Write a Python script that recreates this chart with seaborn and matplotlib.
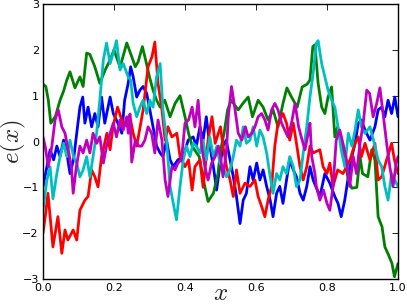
import matplotlib
matplotlib.use("Agg")
import matplotlib.pyplot as plt
import seaborn as sns
import numpy as np

# values, (x, e(x)) for each of the five curves
blue = [(0, -0.99), (0.011, -0.55), (0.02, -0.18), (0.03, -0.4), (0.039, -0.1), (0.048, -0.33),
        (0.058, 0.03), (0.067, -0.25), (0.076, -0.7), (0.086, -0.4), (0.095, 0.18), (0.104, 0.75),
        (0.112, 0.97), (0.118, 0.4), (0.127, 0.75), (0.137, 0.32), (0.146, 0.61), (0.155, 0.32),
        (0.165, 0.97), (0.174, 0.4), (0.189, 0.97), (0.198, 0.61), (0.211, 0.4), (0.222, 0.18),
        (0.23, 0.9), (0.24, 1.27), (0.247, 1.63), (0.254, 1.41), (0.264, 0.97), (0.273, 1.12),
        (0.282, 1.2), (0.292, 1.05), (0.301, 0.69), (0.31, 0.32), (0.32, -0.1), (0.33, -0.25),
        (0.338, -0.33), (0.348, 0.03), (0.358, -0.4), (0.367, -0.55), (0.38, -0.4), (0.395, -0.33),
        (0.409, 0.03), (0.423, 0.1), (0.432, -0.1), (0.442, 0.32), (0.451, 0.03), (0.46, 0.54),
        (0.47, -0.1), (0.48, -0.55), (0.489, -1.06), (0.498, -0.55), (0.507, -0.1), (0.516, 0.03),
        (0.527, -0.4), (0.536, -0.77), (0.545, -1.2), (0.555, -1.79), (0.564, -1.28), (0.573, -1.13),
        (0.583, -0.55), (0.592, -0.84), (0.602, -0.47), (0.611, -0.84), (0.62, -0.62), (0.63, -0.98),
        (0.64, -1.28), (0.648, -1.64), (0.658, -1.13), (0.667, -0.98), (0.676, -1.35), (0.686, -0.84),
        (0.695, -0.4), (0.705, -0.62), (0.714, -0.77), (0.724, -1.13), (0.733, -1.28), (0.743, -0.98),
        (0.752, -0.55), (0.761, -0.84), (0.78, -1.2), (0.794, -0.7), (0.808, -0.91), (0.822, -1.2),
        (0.831, -1.35), (0.84, -1.64), (0.85, -1.28), (0.86, -0.77), (0.87, -0.33), (0.879, -0.04),
        (0.888, 0.4), (0.897, 0.47), (0.907, 0.25), (0.921, 0.03), (0.935, 0.32), (0.944, 0.69),
        (0.954, 0.75), (0.963, 0.54), (0.972, 0.9), (0.982, 0.61), (0.991, 0.97), (1.0, 0.54)]

green = [(0, 1.25), (0.008, 1.2), (0.015, 0.9), (0.022, 0.4), (0.035, 0.55), (0.048, 0.9),
         (0.058, 1.1), (0.067, 1.34), (0.076, 1.52), (0.09, 1.17), (0.104, 1.41), (0.113, 1.2),
         (0.123, 1.93), (0.132, 1.9), (0.146, 1.63), (0.16, 1.27), (0.175, 1.56), (0.189, 1.78),
         (0.2, 2.0), (0.217, 1.62), (0.236, 2.15), (0.25, 1.85), (0.26, 1.63), (0.268, 1.74),
         (0.28, 2.07), (0.29, 1.75), (0.3, 1.41), (0.31, 1.12), (0.32, 0.9), (0.33, 0.75),
         (0.343, 0.9), (0.358, 0.54), (0.372, 0.83), (0.386, 1.0), (0.4, 0.54), (0.41, 0.18),
         (0.42, -0.1), (0.44, -0.33), (0.456, -0.99), (0.465, -1.31), (0.48, -1.13), (0.493, -0.7),
         (0.5, -0.2), (0.51, 0.18), (0.52, 0.69), (0.53, 0.9), (0.55, 0.69), (0.563, 0.83),
         (0.578, 0.97), (0.59, 0.54), (0.606, 0.9), (0.62, 0.75), (0.634, 0.47), (0.648, 0.69),
         (0.662, 0.32), (0.676, 0.83), (0.687, 1.17), (0.7, 0.97), (0.716, 0.75), (0.73, 1.19),
         (0.744, 1.25), (0.752, 1.34), (0.76, 2.07), (0.766, 2.11), (0.775, 1.27), (0.785, 0.75),
         (0.794, 0.61), (0.803, 0.97), (0.813, 1.19), (0.822, 0.1), (0.83, 0.32), (0.84, -0.04),
         (0.85, -0.4), (0.86, -0.84), (0.87, -1.02), (0.884, -1.0), (0.893, -0.33), (0.9, -0.7),
         (0.915, -0.77), (0.926, -0.18), (0.935, -0.4), (0.944, -1.64), (0.955, -1.86), (0.963, -2.3),
         (0.972, -2.45), (0.983, -2.66), (0.99, -2.95), (1.0, -2.66)]

red = [(0, -2.0), (0.007, -1.6), (0.014, -1.13), (0.028, -2.3), (0.042, -1.64), (0.053, -2.44),
       (0.062, -1.93), (0.07, -2.15), (0.085, -1.93), (0.095, -2.15), (0.104, -1.5), (0.118, -1.28),
       (0.127, -1.2), (0.137, -0.62), (0.146, -0.77), (0.155, -0.99), (0.165, -0.33), (0.18, 0.18),
       (0.189, -0.18), (0.197, 0.32), (0.21, 0.75), (0.225, 0.4), (0.24, 0.32), (0.245, 0.54),
       (0.254, 0.18), (0.264, -0.1), (0.282, 0.69), (0.296, 1.63), (0.307, 1.85), (0.315, 2.17),
       (0.324, 1.27), (0.335, 0.69), (0.344, 0.03), (0.352, 0.32), (0.363, 0.1), (0.377, 0.18),
       (0.386, -0.33), (0.4, -0.55), (0.41, -0.4), (0.42, -1.06), (0.428, -0.55), (0.442, -0.4),
       (0.451, -1.0), (0.465, 0.03), (0.476, 0.54), (0.485, -0.04), (0.494, 0.18), (0.5, 0.32),
       (0.507, -0.1), (0.517, -0.55), (0.527, -0.84), (0.536, -1.2), (0.545, -0.62), (0.555, -1.13),
       (0.569, -0.91), (0.583, -0.98), (0.597, -0.84), (0.606, -1.2), (0.616, -1.42), (0.625, -1.64),
       (0.634, -1.28), (0.644, -0.98), (0.653, -0.1), (0.662, 0.4), (0.676, 0.61), (0.686, 0.4),
       (0.695, 0.03), (0.705, 0.4), (0.714, -0.04), (0.724, -0.55), (0.733, -0.84), (0.743, -0.55),
       (0.752, -0.1), (0.761, -0.25), (0.78, -0.18), (0.789, -0.55), (0.8, -0.7), (0.808, -0.47),
       (0.817, -0.98), (0.83, -0.62), (0.845, -0.7), (0.855, -0.55), (0.865, -0.4), (0.879, -0.04),
       (0.888, 0.1), (0.897, -0.33), (0.907, -0.04), (0.921, -0.4), (0.935, -0.04), (0.944, -0.84),
       (0.954, -0.77), (0.968, -0.4), (0.982, -0.04), (0.99, -0.4), (1.0, -0.7)]

cyan = [(0, -1.5), (0.011, -0.84), (0.02, -0.55), (0.028, -1.25), (0.039, -0.7), (0.048, -0.33),
        (0.058, -0.04), (0.067, -0.33), (0.076, 0.03), (0.086, -0.33), (0.095, -0.47), (0.104, -0.77),
        (0.113, -0.62), (0.123, -0.33), (0.132, -0.77), (0.141, -0.33), (0.151, 0.18), (0.16, 0.9),
        (0.17, 1.78), (0.179, 2.15), (0.189, 1.7), (0.198, 1.93), (0.207, 2.2), (0.217, 1.56),
        (0.226, 1.7), (0.24, 1.41), (0.247, 1.34), (0.254, 0.83), (0.264, 0.54), (0.273, 0.75),
        (0.282, 0.9), (0.292, 0.61), (0.301, 0.9), (0.31, 0.75), (0.32, 1.41), (0.33, 1.7),
        (0.338, 0.69), (0.348, 0.03), (0.358, -0.98), (0.367, -1.35), (0.376, -1.71), (0.386, -0.98),
        (0.395, -0.4), (0.404, -0.1), (0.414, -0.33), (0.423, -0.04), (0.432, -0.1), (0.442, -0.25),
        (0.451, 0.03), (0.46, -0.4), (0.47, 0.1), (0.48, -0.33), (0.49, -0.1), (0.498, -0.47),
        (0.507, -0.55), (0.517, -0.77), (0.527, -0.62), (0.536, -0.33), (0.545, 0.03), (0.555, -0.1),
        (0.564, 0.32), (0.573, -0.04), (0.583, 0.03), (0.592, 0.32), (0.602, -0.1), (0.611, 0.25),
        (0.62, 0.1), (0.63, -0.25), (0.64, -0.77), (0.648, -1.13), (0.658, -0.7), (0.667, -0.84),
        (0.676, -0.55), (0.686, -0.7), (0.695, -0.33), (0.705, -0.55), (0.714, -0.98), (0.724, -0.84),
        (0.733, -0.25), (0.743, 0.32), (0.752, 0.97), (0.761, 1.49), (0.77, 2.15), (0.775, 2.2),
        (0.785, 1.7), (0.794, 1.41), (0.803, 1.12), (0.813, 0.9), (0.822, 0.75), (0.831, 0.32),
        (0.84, -0.18), (0.85, -0.55), (0.86, 0.18), (0.87, -0.1), (0.879, 0.25), (0.888, 0.69),
        (0.897, 0.32), (0.907, 0.18), (0.921, 0.32), (0.935, -0.1), (0.944, -0.4), (0.954, -0.55),
        (0.963, -0.98), (0.972, -1.28), (0.982, -0.7), (0.991, -0.84), (1.0, -0.98)]

magenta = [(0, 0.1), (0.006, -0.1), (0.015, -0.55), (0.025, -0.1), (0.034, 0.47), (0.043, 0.69),
           (0.053, 0.32), (0.062, 0.18), (0.071, -0.18), (0.08, -0.55), (0.085, -1.13), (0.094, -0.55),
           (0.104, -0.1), (0.113, -0.25), (0.123, 0.03), (0.132, -0.25), (0.141, 0.18), (0.151, -0.04),
           (0.16, 0.1), (0.17, -0.47), (0.179, -0.1), (0.189, 0.18), (0.198, 0.4), (0.207, 0.1),
           (0.217, 0.47), (0.226, 0.25), (0.236, 0.54), (0.24, 0.18), (0.245, 0.6), (0.25, -0.45),
           (0.26, 0.03), (0.27, -0.1), (0.278, -0.1), (0.287, 0.03), (0.296, 0.32), (0.306, 0.18),
           (0.315, -0.25), (0.324, 0.47), (0.335, 0.03), (0.344, -0.84), (0.352, -1.2), (0.363, -0.55),
           (0.372, -0.62), (0.38, -0.47), (0.39, -0.4), (0.4, 0.4), (0.41, 0.47), (0.42, 0.75),
           (0.428, 0.32), (0.437, 0.9), (0.447, -0.1), (0.456, -0.55), (0.465, -0.84), (0.475, -0.47),
           (0.485, -0.33), (0.494, -0.1), (0.5, -0.33), (0.507, -0.77), (0.517, -0.18), (0.522, 0.54),
           (0.531, 1.2), (0.54, 0.75), (0.55, 0.18), (0.56, 0.03), (0.57, 0.32), (0.578, 0.1),
           (0.588, 0.18), (0.597, 0.32), (0.606, 0.54), (0.616, 0.61), (0.625, 0.47), (0.634, 0.25),
           (0.644, 0.69), (0.653, 0.83), (0.662, 0.69), (0.672, 0.4), (0.681, 0.25), (0.69, 0.1),
           (0.7, 0.4), (0.71, 0.83), (0.72, 0.32), (0.73, 0.03), (0.738, -0.18), (0.747, 0.18),
           (0.752, 0.4), (0.757, -0.33), (0.766, -0.7), (0.77, -0.98), (0.78, -1.28), (0.79, -1.06),
           (0.8, -1.35), (0.808, -1.5), (0.817, -0.98), (0.826, 0.03), (0.836, 0.25), (0.845, -0.04),
           (0.855, -0.4), (0.864, -0.98), (0.874, -0.33), (0.883, -0.7), (0.893, -0.04), (0.902, 0.4),
           (0.912, 1.12), (0.92, 1.05), (0.93, 0.54), (0.94, 0.83), (0.949, 1.17), (0.958, 0.61),
           (0.968, -0.04), (0.977, -0.55), (0.986, -0.98), (0.995, -0.47), (1.0, -0.33)]

series = [(blue, "b"), (green, "g"), (red, "r"), (cyan, "c"), (magenta, "m")]
x_ticks = [0.0, 0.2, 0.4, 0.6, 0.8, 1.0]
y_ticks = [-3, -2, -1, 0, 1, 2, 3]

sns.set_style("white")
plt.rcParams["font.family"] = ["DejaVu Sans"]
plt.rcParams["mathtext.fontset"] = "cm"

fig = plt.figure(figsize=(4.07, 3.05), dpi=100)
ax = fig.add_axes([43 / 407, 26 / 305, 355 / 407, 275 / 305])

for pts, col in series:
    xs, ys = zip(*pts)
    sns.lineplot(x=list(xs), y=list(ys), color=col, linewidth=2, ax=ax,
                 estimator=None, sort=False)

ax.set_xlim(0, 1)
ax.set_ylim(-3, 3)
ax.set_xticks(x_ticks)
ax.set_yticks(y_ticks)
ax.set_xticklabels([f"{t:.1f}" for t in x_ticks])
ax.tick_params(direction="in", top=True, right=True, length=4, width=0.6,
               labelsize=8, colors="black", pad=3)
for s in ax.spines.values():
    s.set_color("black")
    s.set_linewidth(1.0)

# labels placed by hand, the figure is tight at the edges
ax.set_xlabel("$x$", fontsize=18, va="center")
ax.xaxis.set_label_coords(0.5, (279 - 293) / 275)
ax.set_ylabel("$e(x)$", fontsize=18, va="center")
ax.yaxis.set_label_coords((13 - 43) / 355, 0.5)

fig.savefig("out.png", dpi=100)
